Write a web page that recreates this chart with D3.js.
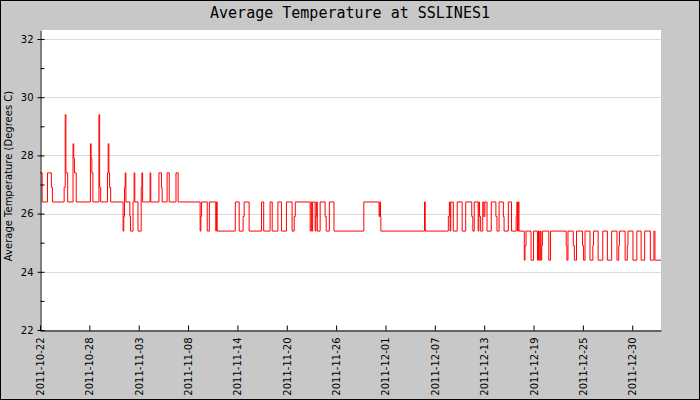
<!DOCTYPE html>
<html>
<head>
<meta charset="utf-8">
<script src="https://cdn.jsdelivr.net/npm/d3@7"></script>
<style>
  body { margin: 0; background: #fff; }
  svg { display: block; }
</style>
</head>
<body>
<div id="chart"></div>
<script>
var w = 700;
var h = 400;

// readings: hours after the first sample, and the temperature from that time on
var startTime = Date.UTC(2011, 9, 22, 10, 30);
var hours = [
  0, 6, 21, 32, 35, 68, 71, 73, 78, 93,
  95, 97, 102, 142, 144, 146, 149, 166, 168, 171,
  190, 192, 194, 196, 199, 234, 236, 238, 240, 242,
  253, 255, 262, 265, 267, 276, 285, 287, 289, 310,
  312, 335, 342, 344, 358, 364, 383, 389, 451, 453,
  455, 471, 477, 495, 497, 499, 550, 561, 572, 575,
  589, 624, 630, 648, 654, 670, 680, 694, 710, 716,
  719, 761, 764, 766, 768, 775, 777, 779, 781, 789,
  803, 806, 815, 828, 912, 955, 957, 959, 960, 1083,
  1085, 1150, 1153, 1155, 1157, 1164, 1175, 1189, 1199, 1216,
  1219, 1223, 1234, 1236, 1238, 1241, 1247, 1250, 1253, 1259,
  1271, 1284, 1287, 1293, 1305, 1307, 1319, 1328, 1341, 1343,
  1345, 1347, 1349, 1364, 1366, 1369, 1383, 1390, 1401, 1404,
  1406, 1409, 1411, 1413, 1415, 1433, 1438, 1482, 1484, 1487,
  1502, 1505, 1511, 1528, 1531, 1535, 1549, 1557, 1559, 1572,
  1585, 1598, 1610, 1625, 1630, 1632, 1648, 1654, 1656, 1670,
  1681, 1693, 1703, 1719, 1729, 1732, 1749
];
var temps = [
  27.4, 26.4, 27.4, 26.9, 26.4, 26.9, 29.4, 27.4, 26.4, 28.4,
  27.9, 27.4, 26.4, 28.4, 27.9, 27.4, 26.4, 29.4, 26.9, 26.4,
  27.4, 28.4, 27.4, 26.9, 26.4, 25.4, 25.9, 26.9, 27.4, 26.4,
  25.9, 25.4, 26.4, 27.4, 26.4, 25.4, 26.9, 27.4, 26.4, 27.4,
  26.4, 27.4, 26.9, 26.4, 27.4, 26.4, 27.4, 26.4, 25.4, 25.9,
  26.4, 25.4, 26.4, 25.4, 26.4, 25.4, 26.4, 25.4, 25.9, 26.4,
  25.4, 26.4, 25.4, 26.4, 25.4, 26.4, 25.4, 26.4, 25.4, 25.9,
  26.4, 25.4, 26.4, 25.4, 26.4, 25.4, 25.9, 26.4, 25.4, 26.4,
  25.9, 25.4, 26.4, 25.4, 26.4, 25.9, 26.4, 25.9, 25.4, 26.4,
  25.4, 25.9, 26.4, 25.4, 26.4, 25.4, 26.4, 25.4, 26.4, 25.9,
  25.4, 26.4, 25.4, 26.4, 25.9, 25.4, 26.4, 25.9, 26.4, 25.4,
  26.4, 25.9, 25.4, 26.4, 25.9, 25.4, 26.4, 25.4, 25.9, 26.4,
  25.4, 26.4, 25.4, 24.4, 24.9, 25.4, 24.4, 25.4, 24.4, 25.4,
  24.4, 25.4, 24.4, 24.9, 25.4, 24.4, 25.4, 24.9, 24.4, 25.4,
  24.9, 24.4, 25.4, 24.9, 24.4, 25.4, 24.4, 24.9, 25.4, 24.4,
  25.4, 24.4, 25.4, 24.4, 24.9, 25.4, 24.4, 24.9, 25.4, 24.4,
  25.4, 24.4, 25.4, 24.4, 25.4, 24.4, 24.4
];

// axis ticks
var yMajor = [22, 24, 26, 28, 30, 32];
var yMinor = [23, 25, 27, 29, 31];
var tickHours = 139;   // x ticks every 139 hours
var tickCount = 13;

var data = hours.map(function(d, i) {
  return { t: new Date(startTime + d * 3600000), v: temps[i] };
});

var plotL = 40, plotR = 661, plotT = 30, plotB = 330;

var x = d3.scaleUtc()
  .domain([new Date(startTime), new Date(startTime + 1749 * 3600000)])
  .range([plotL, plotR]);

var y = d3.scaleLinear()
  .domain([22, 32.31])
  .range([plotB, plotT]);

var svg = d3.select("#chart")
  .append("svg")
  .attr("width", w)
  .attr("height", h);

// background + frame
svg.append("rect")
  .attr("x", 0.5).attr("y", 0.5)
  .attr("width", w - 1).attr("height", h - 1)
  .attr("fill", "#c8c8c8")
  .attr("stroke", "#000");

svg.append("rect")
  .attr("x", plotL).attr("y", plotT)
  .attr("width", plotR - plotL).attr("height", plotB - plotT)
  .attr("fill", "#fff");

// grid
svg.selectAll("line.grid")
  .data(yMajor.slice(1))
  .enter()
  .append("line")
  .attr("class", "grid")
  .attr("x1", plotL).attr("x2", plotR)
  .attr("y1", function(d) { return Math.round(y(d)) + 0.5; })
  .attr("y2", function(d) { return Math.round(y(d)) + 0.5; })
  .attr("stroke", "#dadada");

// the line
var line = d3.line()
  .x(function(d) { return x(d.t); })
  .y(function(d) { return y(d.v); })
  .curve(d3.curveStepAfter);

svg.append("path")
  .datum(data)
  .attr("d", line)
  .attr("fill", "none")
  .attr("stroke", "#ff0000")
  .attr("stroke-width", 1);

// y axis
var yAxis = svg.append("g")
  .attr("transform", "translate(" + (plotL + 0.5) + ",0)")
  .call(d3.axisLeft(y).tickValues(yMajor).tickSize(3).tickSizeOuter(0).tickPadding(4));
yAxis.selectAll(".tick line").attr("x1", 4);

svg.append("g")
  .attr("transform", "translate(" + (plotL + 0.5) + ",0)")
  .call(d3.axisLeft(y).tickValues(yMinor).tickSize(-4).tickSizeOuter(0).tickFormat(""))
  .select(".domain").remove();

// x axis
var xTicks = d3.range(tickCount).map(function(i) {
  return new Date(startTime + i * tickHours * 3600000);
});

var xAxis = svg.append("g")
  .attr("transform", "translate(0," + (plotB + 0.5) + ")")
  .call(d3.axisBottom(x).tickValues(xTicks).tickSize(-5).tickSizeOuter(0)
    .tickFormat(d3.utcFormat("%Y-%m-%d")));

xAxis.selectAll("text")
  .attr("transform", "rotate(-90)")
  .attr("text-anchor", "end")
  .attr("x", -7)
  .attr("y", 0)
  .attr("dy", "0.35em");

svg.selectAll(".domain").attr("stroke", "#000");
svg.selectAll(".tick line").attr("stroke", "#000");
svg.selectAll(".tick text")
  .attr("font-family", "DejaVu Sans")
  .attr("font-size", "10px")
  .attr("fill", "#000");

// titles
svg.append("text")
  .attr("x", 350)
  .attr("y", 18)
  .attr("text-anchor", "middle")
  .attr("font-family", "DejaVu Sans Mono")
  .attr("font-size", "15px")
  .text("Average Temperature at SSLINES1");

svg.append("text")
  .attr("transform", "translate(12,176) rotate(-90)")
  .attr("text-anchor", "middle")
  .attr("font-family", "DejaVu Sans")
  .attr("font-size", "10px")
  .text("Average Temperature (Degrees C)");
</script>
</body>
</html>
